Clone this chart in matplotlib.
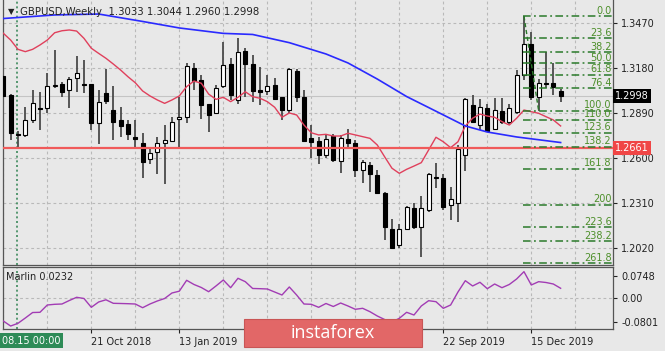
import matplotlib
matplotlib.use("Agg")
import matplotlib.pyplot as plt
import matplotlib.transforms as mtransforms
from matplotlib.patches import Rectangle
import numpy as np
import pandas as pd

# ---- data (GBPUSD weekly) ----
dates = pd.date_range("2018-07-29", periods=77, freq="7D")

opens = [1.3125, 1.3004, 1.2752, 1.2746, 1.2842, 1.2918, 1.2918, 1.3062, 1.3073, 1.3036,
         1.3112, 1.3079, 1.3073, 1.2821, 1.3019, 1.2911, 1.2842, 1.2816, 1.2734, 1.2695,
         1.2594, 1.2637, 1.2692, 1.2708, 1.2847, 1.2864, 1.3181, 1.3101, 1.2944, 1.2886,
         1.3064, 1.3203, 1.2972, 1.3291, 1.3203, 1.3036, 1.3030, 1.3069, 1.2989, 1.2907,
         1.3159, 1.2989, 1.2730, 1.2706, 1.2615, 1.2739, 1.2579, 1.2724, 1.2695, 1.2519,
         1.2551, 1.2486, 1.2374, 1.2137, 1.2038, 1.2141, 1.2277, 1.2152, 1.2264, 1.2470,
         1.2469, 1.2292, 1.2310, 1.2620, 1.2939, 1.2810, 1.2924, 1.2788, 1.2900, 1.2831,
         1.2896, 1.3134, 1.3334, 1.2993, 1.3085, 1.3084, 1.3033]
highs = [1.3170, 1.3010, 1.2770, 1.2928, 1.3036, 1.3025, 1.3144, 1.3295, 1.3090, 1.3123,
         1.3256, 1.3230, 1.3073, 1.3036, 1.3170, 1.3064, 1.2925, 1.2842, 1.2842, 1.2760,
         1.2659, 1.2734, 1.2810, 1.2864, 1.2989, 1.3213, 1.3213, 1.3133, 1.2944, 1.3069,
         1.3349, 1.3245, 1.3371, 1.3306, 1.3263, 1.3187, 1.3133, 1.3112, 1.2993, 1.3180,
         1.3172, 1.3036, 1.2814, 1.2734, 1.2756, 1.2756, 1.2745, 1.2788, 1.2713, 1.2583,
         1.2572, 1.2519, 1.2378, 1.2206, 1.2174, 1.2286, 1.2307, 1.2350, 1.2500, 1.2567,
         1.2497, 1.2410, 1.2680, 1.2983, 1.3004, 1.2976, 1.2944, 1.2987, 1.2987, 1.2950,
         1.3166, 1.3514, 1.3414, 1.3108, 1.3284, 1.3209, 1.3044]
lows = [1.2960, 1.2713, 1.2665, 1.2734, 1.2821, 1.2777, 1.2890, 1.3047, 1.2993, 1.2918,
        1.3025, 1.3015, 1.2777, 1.2691, 1.2950, 1.2717, 1.2734, 1.2717, 1.2659, 1.2471,
        1.2557, 1.2497, 1.2428, 1.2702, 1.2659, 1.2821, 1.3036, 1.2849, 1.2766, 1.2886,
        1.3047, 1.2972, 1.2950, 1.2993, 1.2961, 1.2939, 1.3004, 1.2972, 1.2842, 1.2890,
        1.2961, 1.2702, 1.2601, 1.2557, 1.2601, 1.2575, 1.2503, 1.2659, 1.2475, 1.2436,
        1.2378, 1.2368, 1.2070, 1.2016, 1.2016, 1.2130, 1.2141, 1.1958, 1.2250, 1.2402,
        1.2260, 1.2199, 1.2184, 1.2512, 1.2821, 1.2777, 1.2769, 1.2777, 1.2816, 1.2816,
        1.2880, 1.3100, 1.2972, 1.2904, 1.3050, 1.3004, 1.2960]
closes = [1.2998, 1.2758, 1.2746, 1.2842, 1.2954, 1.2912, 1.3064, 1.3066, 1.3022, 1.3106,
          1.3148, 1.3068, 1.2825, 1.2961, 1.2965, 1.2831, 1.2803, 1.2750, 1.2724, 1.2572,
          1.2630, 1.2692, 1.2713, 1.2831, 1.2864, 1.3192, 1.3097, 1.2939, 1.2879, 1.3047,
          1.3198, 1.3004, 1.3284, 1.3203, 1.3030, 1.3026, 1.3064, 1.2978, 1.2907, 1.3170,
          1.2993, 1.2708, 1.2702, 1.2615, 1.2724, 1.2583, 1.2730, 1.2692, 1.2519, 1.2572,
          1.2493, 1.2374, 1.2152, 1.2016, 1.2137, 1.2281, 1.2152, 1.2277, 1.2497, 1.2476,
          1.2281, 1.2331, 1.2653, 1.2978, 1.2831, 1.2928, 1.2773, 1.2907, 1.2831, 1.2924,
          1.3134, 1.3334, 1.2993, 1.3080, 1.3077, 1.3054, 1.2998]

# red moving average, one value per bar
ma_fast = [1.3404, 1.3360, 1.3300, 1.3285, 1.3300, 1.3328, 1.3360, 1.3407, 1.3420, 1.3425,
           1.3418, 1.3371, 1.3307, 1.3274, 1.3242, 1.3205, 1.3166, 1.3123, 1.3084, 1.3031,
           1.2999, 1.2973, 1.2951, 1.2973, 1.2999, 1.3059, 1.3095, 1.3081, 1.3011, 1.2977,
           1.2990, 1.2962, 1.2990, 1.3026, 1.2994, 1.2984, 1.2962, 1.2926, 1.2861, 1.2889,
           1.2876, 1.2811, 1.2761, 1.2747, 1.2751, 1.2740, 1.2740, 1.2758, 1.2747, 1.2736,
           1.2725, 1.2682, 1.2606, 1.2532, 1.2499, 1.2525, 1.2546, 1.2568, 1.2650, 1.2732,
           1.2703, 1.2665, 1.2703, 1.2805, 1.2855, 1.2882, 1.2869, 1.2861, 1.2833, 1.2811,
           1.2855, 1.2908, 1.2897, 1.2887, 1.2865, 1.2844, 1.2805]

# blue moving average, sampled at some bars
ma_slow_idx = [0, 7, 13, 19, 24, 30, 34, 39, 44, 47, 51, 55, 58, 63, 66, 70, 76]
ma_slow = [1.3499, 1.3522, 1.3528, 1.3480, 1.3438, 1.3403, 1.3396, 1.3343, 1.3270, 1.3212,
           1.3108, 1.2995, 1.2924, 1.2805, 1.2766, 1.2734, 1.2698]

# Marlin oscillator
marlin = [-0.0758, -0.0925, -0.0835, -0.0659, -0.0476, -0.0469, -0.0226, -0.0203, -0.0193, -0.0077,
          0.0030, -0.0010, -0.0303, -0.0126, -0.0053, -0.0170, -0.0176, -0.0183, -0.0193, -0.0316,
          -0.0193, -0.0093, -0.0010, 0.0173, 0.0233, 0.0595, 0.0456, 0.0356, 0.0216, 0.0406,
          0.0605, 0.0349, 0.0662, 0.0549, 0.0323, 0.0316, 0.0306, 0.0206, 0.0106, 0.0373,
          0.0106, -0.0193, -0.0203, -0.0303, -0.0176, -0.0276, -0.0160, -0.0259, -0.0369, -0.0336,
          -0.0449, -0.0592, -0.0709, -0.0792, -0.0669, -0.0469, -0.0559, -0.0259, -0.0083, -0.0116,
          -0.0336, -0.0226, 0.0206, 0.0582, 0.0406, 0.0529, 0.0316, 0.0472, 0.0349, 0.0456,
          0.0639, 0.0882, 0.0439, 0.0549, 0.0522, 0.0472, 0.0330]

price_ticks = [1.3470, 1.3180, 1.2890, 1.2600, 1.2310, 1.2020]
marlin_ticks = [0.0748, 0.0, -0.0801]
marlin_labels = ["0.0748", "0.00", "-0.0801"]
date_ticks = [12, 24, 60, 72]

fib_high, fib_high_i = 1.3514, 71
fib_low, fib_low_i = 1.2904, 73
fib_levels = [0.0, 23.6, 38.2, 50.0, 61.8, 76.4, 100.0, 110.0, 123.6, 138.2,
              161.8, 200, 223.6, 238.2, 261.8]
hline_price = 1.2661
last_price = 1.2998
vline_pos = 1.91

BG = "#e8e8e8"
GRID = "#b9b9b9"
W, H = 665, 351

fig = plt.figure(figsize=(6.65, 3.51), dpi=100, facecolor=BG)


def px_rect(x0, y0, x1, y1):
    return [x0 / W, 1 - y1 / H, (x1 - x0) / W, (y1 - y0) / H]


ax = fig.add_axes(px_rect(2.7, 0, 612.7, 264.5), facecolor=BG)
ax2 = fig.add_axes(px_rect(2.7, 266.7, 612.7, 329), facecolor=BG)

xlim = (-0.082, 83.1)
x = np.arange(len(opens))
o, h, l, c = map(np.array, (opens, highs, lows, closes))

# grids
for a in (ax, ax2):
    for gx in range(0, 84, 6):
        a.axvline(gx, color=GRID, lw=0.8, ls=(0, (2.5, 2.5)), zorder=0)
    a.axvline(vline_pos, color="#3d8a5c", lw=1.2, ls=(0, (1.2, 1.6)), zorder=1)
for p in price_ticks:
    ax.axhline(p, color=GRID, lw=0.8, ls=(0, (2.5, 2.5)), zorder=0)
ax2.axhline(0, color=GRID, lw=0.8, ls=(0, (2.5, 2.5)), zorder=0)

ax.axhline(last_price, color="#c4c4c4", lw=0.8, zorder=0.5)

# candles
ax.vlines(x, l, h, color="#4a4a4a", lw=1.3, zorder=2)
up = c >= o
body_lo = np.minimum(o, c)
body_h = np.maximum(np.abs(c - o), 0.0007)
ax.bar(x[up], body_h[up], bottom=body_lo[up], width=0.58, color="white",
       edgecolor="black", linewidth=0.8, zorder=3)
ax.bar(x[~up], body_h[~up], bottom=body_lo[~up], width=0.58, color="black",
       edgecolor="black", linewidth=0.8, zorder=3)

# moving averages
ax.plot(x, ma_fast, color="#e0405c", lw=1.0, zorder=4)
ax.plot(ma_slow_idx, ma_slow, color="#2a2aff", lw=1.2, zorder=4)

# horizontal level
ax.axhline(hline_price, color="#f05a5a", lw=1.6, zorder=4)

# fibonacci
rng = fib_high - fib_low
for lv in fib_levels:
    yv = fib_high - rng * lv / 100.0
    ax.plot([fib_high_i - 0.1, xlim[1]], [yv, yv], color="#2a7a2a", lw=1.1,
            ls=(0, (5, 2.2, 1.2, 2.2)), zorder=5)
    lab = "%g" % lv if lv == 200 else "%.1f" % lv
    ax.text(xlim[1] - 0.15, yv + 0.0004, lab, ha="right", va="bottom",
            fontsize=7, color="#4d8f2a", zorder=6)
ax.plot([fib_high_i, fib_low_i], [fib_high, fib_low], color="#2a7a2a", lw=1.0,
        ls=(0, (3, 2)), zorder=5)

ax.set_xlim(*xlim)
ax.set_ylim(1.19102, 1.36186)
ax.set_xticks([])
ax.yaxis.tick_right()
ax.set_yticks(price_ticks)
ax.set_yticklabels(["%.4f" % p for p in price_ticks])
ax.tick_params(axis="y", direction="out", length=3, labelsize=7, pad=3,
               colors="#222222", width=0.8)
ax.spines["top"].set_visible(False)
for s in ("left", "right", "bottom"):
    ax.spines[s].set_color("#555555")
    ax.spines[s].set_linewidth(0.9)

trans = mtransforms.blended_transform_factory(ax.transAxes, ax.transData)
ax.text(1.004, last_price, "%.4f" % last_price, transform=trans, ha="left", va="center",
        fontsize=7, color="white", clip_on=False, zorder=10,
        bbox=dict(boxstyle="square,pad=0.2", fc="black", ec="none"))
ax.text(1.004, hline_price, "%.4f" % hline_price, transform=trans, ha="left", va="center",
        fontsize=7, color="white", clip_on=False, zorder=10,
        bbox=dict(boxstyle="square,pad=0.2", fc="#f04646", ec="none"))

# indicator panel
ax2.plot(x, marlin, color="#a23cb4", lw=1.0, zorder=3)
ax2.set_xlim(*xlim)
ax2.set_ylim(-0.1024, 0.1047)
ax2.yaxis.tick_right()
ax2.set_yticks(marlin_ticks)
ax2.set_yticklabels(marlin_labels)
ax2.set_xticks(date_ticks)
ax2.set_xticklabels([dates[i].strftime("%d %b %Y") for i in date_ticks])
for lbl in ax2.get_xticklabels():
    lbl.set_ha("left")
ax2.tick_params(axis="both", direction="out", length=3, labelsize=7, pad=3,
                colors="#222222", width=0.8)
for s in ax2.spines.values():
    s.set_color("#555555")
    s.set_linewidth(0.9)
ax2.text(0.006, 0.84, "Marlin 0.0232", transform=ax2.transAxes, fontsize=7,
         color="#222222", va="center")

# titles and labels
fig.text(8 / W, 1 - 12 / H, "\u25bc", fontsize=6, color="#222222", va="center")
fig.text(20 / W, 1 - 12 / H, "GBPUSD,Weekly  1.3033 1.3044 1.2960 1.2998",
         fontsize=7.3, color="#222222", va="center")
fig.text(2 / W, 1 - 340.5 / H, "08.15 00:00", ha="left", va="center",
         fontsize=7, color="white",
         bbox=dict(boxstyle="square,pad=0.25", fc="#2e8b57", ec="none"))

# watermark logo
fig.patches.append(Rectangle((244 / W, 1 - 347 / H), 178 / W, 28 / H,
                             transform=fig.transFigure, fc="#e26767", ec="#c95555",
                             lw=0.8, zorder=20))
fig.text(333 / W, 1 - 333 / H, "instaforex", ha="center", va="center",
         fontsize=13, color="white", family="Open Sans", zorder=21)

fig.savefig("out.png", dpi=100, facecolor=BG)
